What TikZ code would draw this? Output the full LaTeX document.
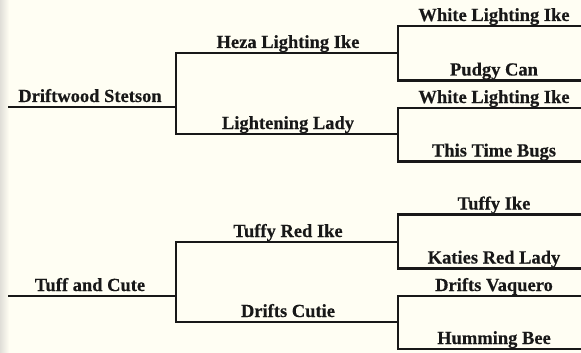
\documentclass[tikz,border=0pt]{standalone}
\usepackage{fontspec}
\setmainfont{Liberation Serif}[BoldFeatures={FakeBold=0.4}]
\definecolor{bg}{RGB}{255,254,243}
\definecolor{stripe}{RGB}{224,222,216}
\definecolor{ink}{RGB}{24,24,24}
\newcommand\pedline[6]{%
  \coordinate (#1-s) at (#2,#4);
  \coordinate (#1-e) at (#3,#4);
  \node[lbl] (#1) at (#5,#4-5) {#6};
  \draw[bline] (#1-s) -- (#1-e);}
\begin{document}
\begin{tikzpicture}[x=1pt,y=-1pt,
  bline/.style={draw=ink,line width=2.6pt,line cap=rect},
  lbl/.style={anchor=base,inner sep=0pt,text=ink,font=\fontsize{18.5}{20}\selectfont\bfseries}]
\useasboundingbox (0,0) rectangle (581,353);
\fill[bg] (0,0) rectangle (581,353);
\shade[left color=stripe,right color=bg] (0,0) rectangle (9,353);
% top pedigree
\pedline{DS}{9}{176}{107}{90}{Driftwood Stetson}
\pedline{HL}{176}{398}{53}{288}{Heza Lighting Ike}
\pedline{LL}{176}{398}{134}{288}{Lightening Lady}
\pedline{WA}{398}{581}{26}{494}{White Lighting Ike}
\pedline{PC}{398}{581}{80.5}{494}{Pudgy Can}
\pedline{WB}{398}{581}{108}{494}{White Lighting Ike}
\pedline{TB}{398}{581}{161.5}{494}{This Time Bugs}
\draw[bline] (HL-s) -- (LL-s);
\draw[bline] (WA-s) -- (PC-s);
\draw[bline] (WB-s) -- (TB-s);
% bottom pedigree
\pedline{TC}{9}{176}{296}{90}{Tuff and Cute}
\pedline{TR}{176}{398}{242}{288}{Tuffy Red Ike}
\pedline{DC}{176}{398}{322}{288}{Drifts Cutie}
\pedline{TI}{398}{581}{214.5}{494}{Tuffy Ike}
\pedline{KR}{398}{581}{268.5}{494}{Katies Red Lady}
\pedline{DV}{398}{581}{296}{494}{Drifts Vaquero}
\pedline{HB}{398}{581}{349}{494}{Humming Bee}
\draw[bline] (TR-s) -- (DC-s);
\draw[bline] (TI-s) -- (KR-s);
\draw[bline] (DV-s) -- (HB-s);
\end{tikzpicture}
\end{document}
